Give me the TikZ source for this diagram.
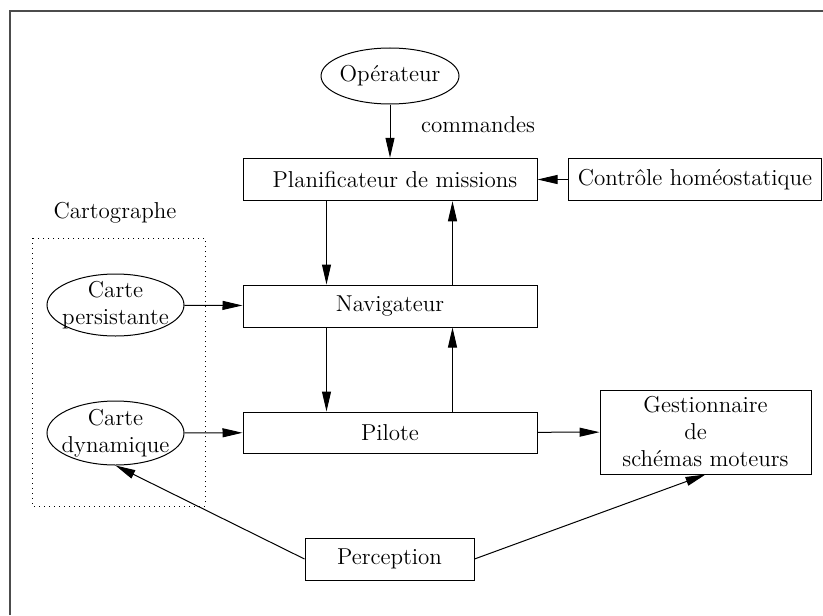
\documentclass[tikz,border=0pt]{standalone}
\usetikzlibrary{arrows.meta,shapes.geometric}
\begin{document}
\begin{tikzpicture}[x=0.5pt,y=-0.5pt,
  every node/.style={font=\fontsize{11.5}{13.5}\selectfont},
  boxnode/.style={draw,line width=0.5pt,rectangle,inner sep=0pt,align=center},
  ellnode/.style={draw,line width=0.5pt,ellipse,inner sep=0pt,align=center},
  arr/.style={line width=0.5pt,-{Triangle[length=10pt,width=4.5pt]}},
  plain/.style={line width=0.5pt}]
\useasboundingbox (0,0) rectangle (823,615);
\fill[white] (0,0) rectangle (823,615);
% frame
\draw[black!70,line width=1pt] (10,615) -- (10,11) -- (823,11);
% nodes
\node[ellnode,inner xsep=-1.5pt,minimum width=69pt,minimum height=28pt] (op) at (390,76) {Op\'erateur};
\node[boxnode,minimum width=147pt,minimum height=21.25pt] (plan) at (390,179.5) {\hspace*{5pt}Planificateur de missions};
\node[boxnode,minimum width=126.5pt,minimum height=21.25pt] (ctrl) at (695,179.5) {Contr\^ole hom\'eostatique};
\node[boxnode,minimum width=147pt,minimum height=21pt] (nav) at (390,306) {Navigateur};
\node[boxnode,minimum width=147pt,minimum height=20.5pt] (pil) at (390,432.5) {Pilote};
\node[boxnode,minimum width=105.5pt,minimum height=42pt] (gest) at (705.5,432) {Gestionnaire\\\mbox{de\hspace{10pt}}\\sch\'emas moteurs};
\node[boxnode,minimum width=84.5pt,minimum height=21pt] (perc) at (389.5,559) {Perception};
\node[ellnode,inner xsep=-3.6pt,inner ysep=-2.5pt,minimum width=68.5pt,minimum height=31pt] (cp) at (115.5,305) {Carte\\persistante};
\node[ellnode,inner xsep=-3.6pt,inner ysep=-2.5pt,minimum width=68.5pt,minimum height=32pt] (cd) at (115.5,433) {Carte\\dynamique};
\node (carto) at (115,213) {Cartographe};
\node (cmd) at (478,125) {commandes};
\draw[dotted,line width=0.5pt] (32,238) rectangle (205,506);
% connectors
\draw[arr] (op) -- (plan);
\draw[arr] (ctrl) -- (plan);
\draw[arr] ([xshift=42pt]plan.south west) -- ([xshift=42pt]nav.north west);
\draw[arr] ([xshift=105pt]nav.north west) -- ([xshift=105pt]plan.south west);
\draw[arr] ([xshift=42pt]nav.south west) -- ([xshift=42pt]pil.north west);
\draw[arr] ([xshift=105pt]pil.north west) -- ([xshift=105pt]nav.south west);
\draw[arr] (cp) -- (nav);
\draw[arr] (cd) -- (pil);
\draw[arr] (pil) -- (gest);
\draw[arr] (perc.west) -- (cd.south);
\draw[arr] (perc.east) -- (gest.south);
\end{tikzpicture}
\end{document}
